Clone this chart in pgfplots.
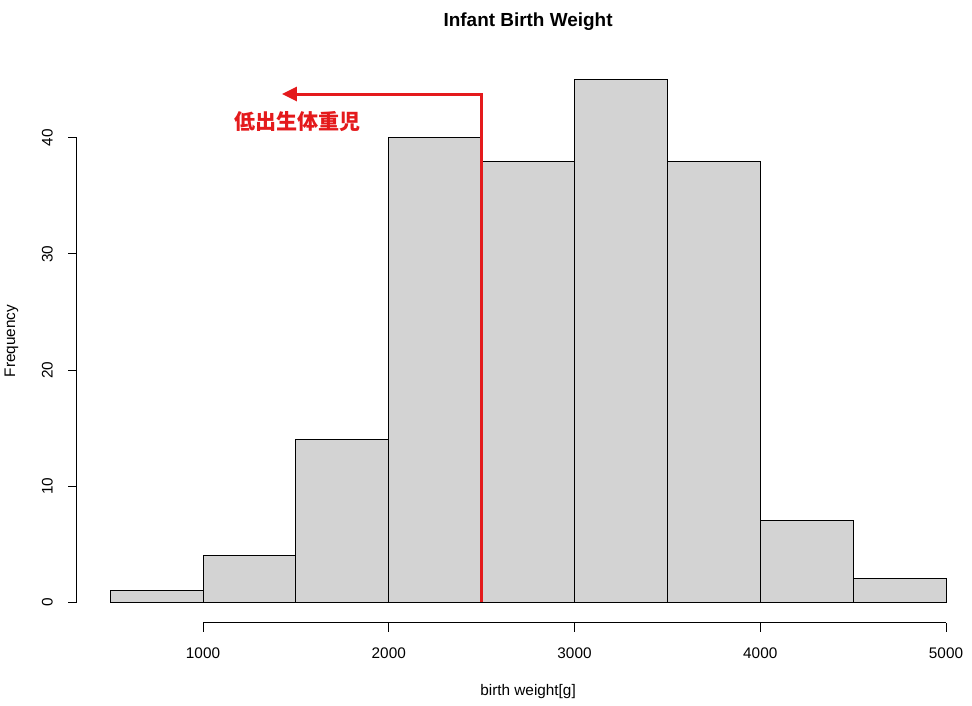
\documentclass[border=0pt]{standalone}
\usepackage{pgfplots}
\pgfplotsset{compat=1.18}
\usetikzlibrary{arrows.meta}
\usepackage{fontspec}
\setmainfont{Liberation Sans}
\newfontfamily\cjk{Noto Sans CJK JP}
\definecolor{barfill}{RGB}{211,211,211}
\definecolor{rred}{RGB}{228,26,28}
\begin{document}
\begin{tikzpicture}
\begin{axis}[
  x=0.1393125pt, y=8.7pt,
  xmin=-92.9, xmax=5139.9, ymin=-8.879, ymax=51.897,
  hide axis, clip=false,
]
\path (axis cs:-92.9,-8.879) rectangle (axis cs:5139.9,51.897);
\addplot[ybar interval, fill=barfill, draw=black, line width=0.75pt] coordinates {
  (500,1) (1000,4) (1500,14) (2000,40) (2500,38) (3000,45) (3500,38) (4000,7) (4500,2) (5000,2)
};
\addplot[rred, line width=2.25pt, line join=miter, -{Triangle[length=11.25pt,width=10.5pt]}] coordinates {
  (2500,0) (2500,43.79) (1425,43.79)
};
\node[text=rred, font=\cjk\bfseries\fontsize{15.8}{18}\selectfont, anchor=center] at (axis cs:1508.7,41.45) {低出生体重児};
% x axis
\draw[line width=0.75pt] (axis cs:1000,-1.8) -- (axis cs:5000,-1.8);
\pgfplotsinvokeforeach{1000,2000,3000,4000,5000}{
  \draw[line width=0.75pt] (axis cs:#1,-1.8) -- (axis cs:#1,-2.576);
  \node[anchor=base, font=\fontsize{11.5}{13.8}\selectfont, inner sep=0pt] at (axis cs:#1,-4.83) {#1};
}
% y axis
\draw[line width=0.75pt] (axis cs:320,0) -- (axis cs:320,40);
\pgfplotsinvokeforeach{0,10,20,30,40}{
  \draw[line width=0.75pt] (axis cs:320,#1) -- (axis cs:271.55,#1);
  \node[rotate=90, anchor=base, font=\fontsize{11.5}{13.8}\selectfont, inner sep=0pt] at (axis cs:190.8,#1) {#1};
}
% labels
\node[anchor=base, font=\bfseries\fontsize{14.2}{17}\selectfont, inner sep=0pt] at (axis cs:2750,49.59) {Infant Birth Weight};
\node[anchor=base, font=\fontsize{11.5}{13.8}\selectfont, inner sep=0pt] at (axis cs:2750,-8.10) {birth weight[g]};
\node[rotate=90, anchor=base, font=\fontsize{11.5}{13.8}\selectfont, inner sep=0pt] at (axis cs:-12.1,22.5) {Frequency};
\end{axis}
\end{tikzpicture}
\end{document}
